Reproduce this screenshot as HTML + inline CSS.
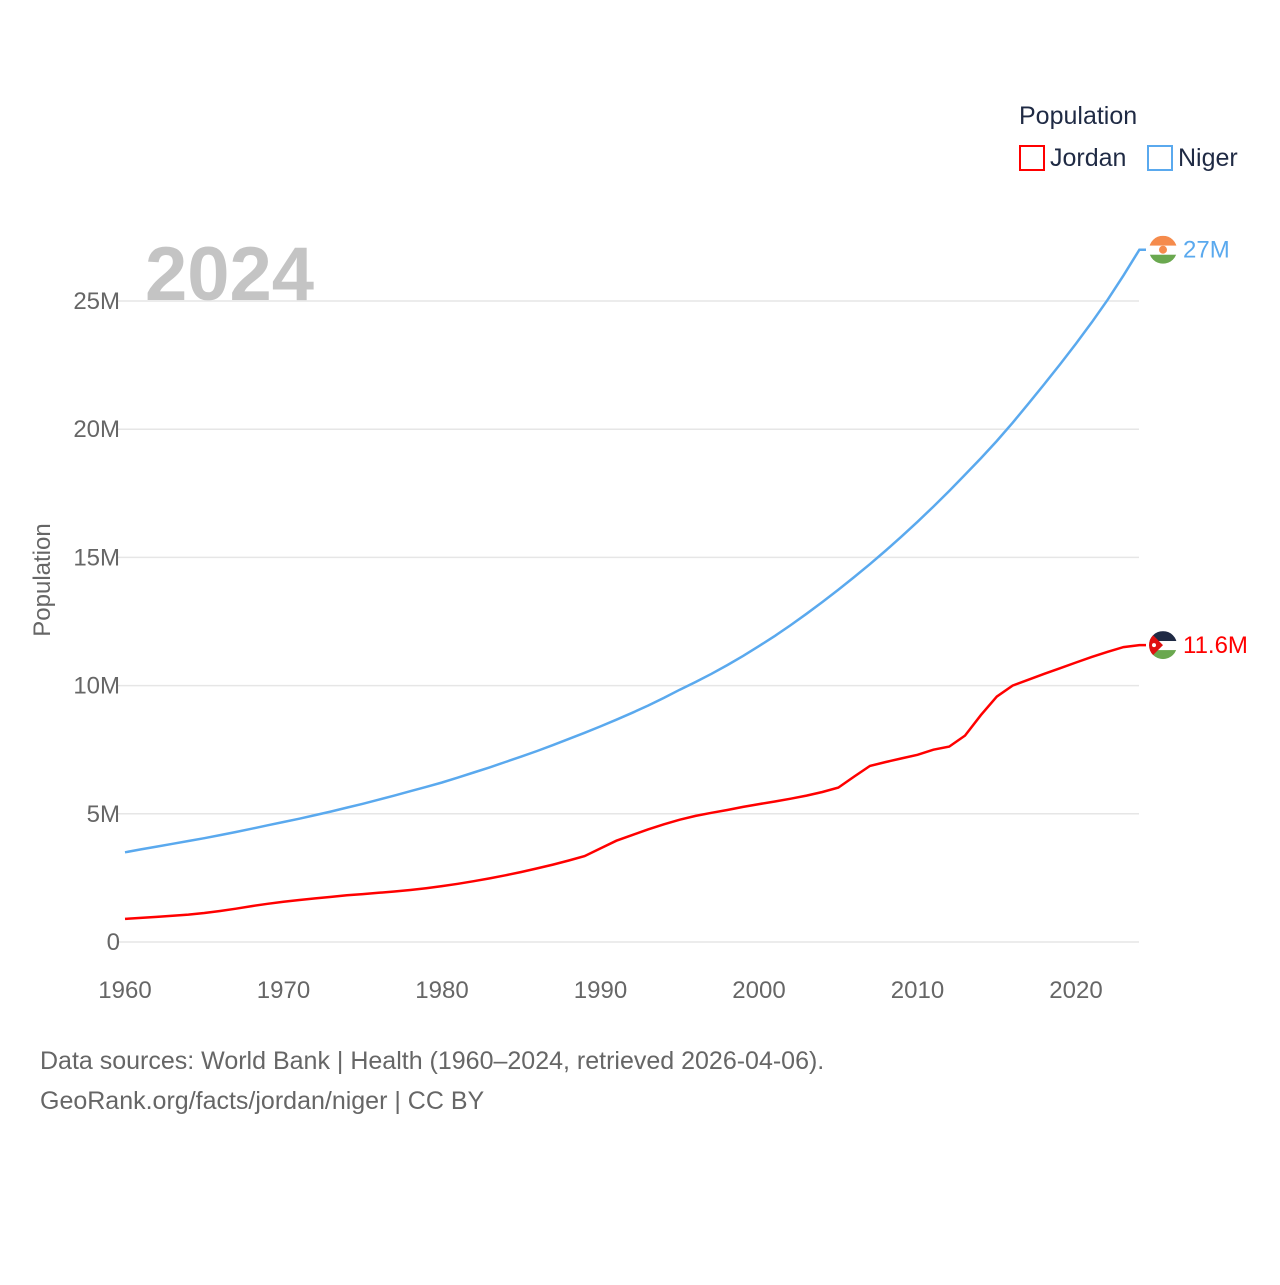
<!DOCTYPE html>
<html><head><meta charset="utf-8"><style>
body{margin:0;background:#fff;font-family:"Liberation Sans",sans-serif;}
svg text{font-family:"Liberation Sans",sans-serif;}
</style></head><body>
<svg width="1280" height="1280">
<text x="1019" y="124" font-size="25" fill="#1f2a44">Population</text>
<g><rect x="1020" y="146" width="24" height="24" fill="none" stroke="#ff0000" stroke-width="2"/><text x="1050" y="166" font-size="25" fill="#1f2a44">Jordan</text></g>
<g><rect x="1148" y="146" width="24" height="24" fill="none" stroke="#5aa9ee" stroke-width="2"/><text x="1178" y="166" font-size="25" fill="#1f2a44">Niger</text></g>
<text x="145" y="300" font-size="76" font-weight="bold" fill="#c4c4c4">2024</text>
<g id="grid"></g>
<g id="yt"></g>
<g id="xt"></g>
<text transform="translate(50,580) rotate(-90)" text-anchor="middle" font-size="24" fill="#666">Population</text>
<g id="series"></g>
<text x="40" y="1069" font-size="25" fill="#666">Data sources: World Bank | Health (1960–2024, retrieved 2026-04-06).</text>
<text x="40" y="1109" font-size="25" fill="#666">GeoRank.org/facts/jordan/niger | CC BY</text>
</svg>
<script>
const years=[];for(let y=1960;y<=2024;y++)years.push(y);
const jordan=[0.90,0.94,0.98,1.02,1.07,1.13,1.21,1.30,1.40,1.49,1.57,1.64,1.70,1.76,1.82,1.87,1.92,1.97,2.03,2.10,2.18,2.27,2.37,2.48,2.60,2.73,2.87,3.02,3.18,3.35,3.65,3.95,4.17,4.39,4.59,4.77,4.92,5.04,5.15,5.27,5.38,5.48,5.59,5.71,5.85,6.02,6.45,6.87,7.02,7.16,7.30,7.50,7.62,8.05,8.85,9.57,10.0,10.23,10.46,10.68,10.90,11.12,11.32,11.50,11.58];
const niger=[3.50,3.61,3.72,3.83,3.94,4.05,4.17,4.29,4.42,4.55,4.68,4.81,4.95,5.09,5.24,5.39,5.55,5.71,5.88,6.05,6.22,6.41,6.61,6.81,7.02,7.23,7.45,7.68,7.92,8.16,8.41,8.67,8.94,9.22,9.52,9.84,10.14,10.46,10.80,11.16,11.54,11.94,12.36,12.80,13.26,13.74,14.23,14.74,15.27,15.82,16.39,16.98,17.59,18.22,18.87,19.54,20.25,21.00,21.76,22.54,23.34,24.17,25.05,26.00,27.00];
const yTicks=[0,5,10,15,20,25];const yTickLabels=["0","5M","10M","15M","20M","25M"];
const xTicks=[1960,1970,1980,1990,2000,2010,2020];
const X=y=>125+(y-1960)*(1076-125)/60, Y=v=>942-v*(942-301)/25;
const NS="http://www.w3.org/2000/svg";
function mk(t,a,p){const e=document.createElementNS(NS,t);for(const k in a)e.setAttribute(k,a[k]);p.appendChild(e);return e;}
const g=document.getElementById('grid'),yt=document.getElementById('yt'),xt=document.getElementById('xt'),s=document.getElementById('series');
yTicks.forEach((v,i)=>{const l=mk('line',{x1:118,x2:1139,y1:Y(v),y2:Y(v),stroke:'#e6e6e6','stroke-width':1.5},g);


const t=mk('text',{x:120,y:Y(v)+8,'text-anchor':'end','font-size':24,fill:'#666'},yt);t.textContent=yTickLabels[i];

});
xTicks.forEach(v=>{const t=mk('text',{x:X(v),y:998,'text-anchor':'middle','font-size':24,fill:'#666'},xt);t.textContent=v;

});
function line(data,col,name,lab,flag){const d=data.map((v,i)=>(i?'L':'M')+X(years[i]).toFixed(1)+','+Y(v).toFixed(1)).join('')+'H1146';
const p=mk('path',{d:d,fill:'none',stroke:col,'stroke-width':2.5},s);


const yy=Y(data[data.length-1]);
const fg=mk('g',{},s);


flag(fg,1163,yy);
const t=mk('text',{x:1183,y:yy+8,'font-size':24,fill:col},s);t.textContent=lab;

}
line(niger,'#5aa9ee','niger-line','27M',(p,cx,cy)=>{mk('clipPath',{id:'cn'},p);mk('circle',{cx,cy,r:14},p.lastChild);
const gg=mk('g',{'clip-path':'url(#cn)'},p);mk('rect',{x:cx-14,y:cy-14,width:28,height:10,fill:'#f58b4c'},gg);mk('rect',{x:cx-14,y:cy-4,width:28,height:9,fill:'#fff'},gg);mk('rect',{x:cx-14,y:cy+5,width:28,height:9,fill:'#6aa84f'},gg);mk('circle',{cx,cy,r:4,fill:'#f58b4c'},gg);});
line(jordan,'#ff0000','jordan-line','11.6M',(p,cx,cy)=>{mk('clipPath',{id:'cj'},p);mk('circle',{cx,cy,r:14},p.lastChild);
const gg=mk('g',{'clip-path':'url(#cj)'},p);mk('rect',{x:cx-14,y:cy-14,width:28,height:10,fill:'#1f2a44'},gg);mk('rect',{x:cx-14,y:cy-4,width:28,height:9,fill:'#fff'},gg);mk('rect',{x:cx-14,y:cy+5,width:28,height:9,fill:'#6aa84f'},gg);mk('path',{d:`M${cx-14},${cy-14}L${cx},${cy}L${cx-14},${cy+14}Z`,fill:'#e01010'},gg);mk('circle',{cx:cx-9,cy,r:2,fill:'#fff'},gg);});
</script>
</body></html>
